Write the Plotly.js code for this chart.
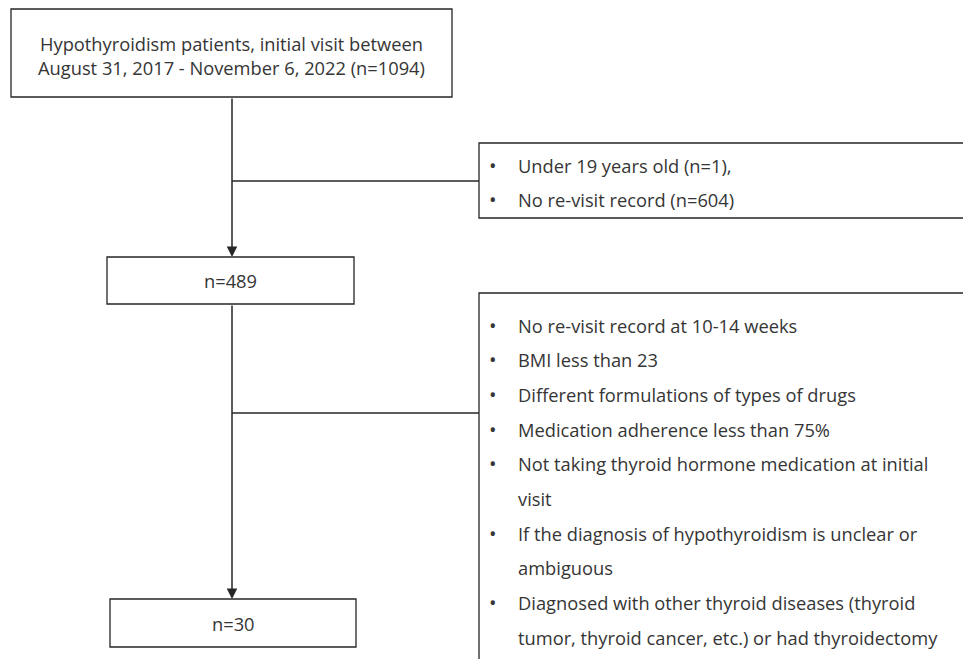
<!DOCTYPE html>
<html>
<head>
<meta charset="utf-8">
<script src="https://cdn.plot.ly/plotly-3.0.1.min.js"></script>
<style>
  html, body { margin: 0; padding: 0; background: #ffffff; }
  #chart { width: 963px; height: 659px; }
</style>
</head>
<body>
<div id="chart"></div>
<script>
// ---- content of the flow chart ----
const stageLabels = [
  "Hypothyroidism patients, initial visit between<br>August 31, 2017 - November 6, 2022 (n=1094)",
  "n=489",
  "n=30"
];
const exclusionStep1 = [
  "Under 19 years old (n=1),",
  "No re-visit record (n=604)"
];
const exclusionStep2 = [
  "No re-visit record at 10-14 weeks",
  "BMI less than 23",
  "Different formulations of types of drugs",
  "Medication adherence less than 75%",
  "Not taking thyroid hormone medication at initial\nvisit",
  "If the diagnosis of hypothyroidism is unclear or\nambiguous",
  "Diagnosed with other thyroid diseases (thyroid\ntumor, thyroid cancer, etc.) or had thyroidectomy"
];

// ---- layout geometry (pixel-like data coordinates) ----
const W = 963, H = 659;
const FONT = "'Open Sans', 'Noto Sans', sans-serif";
const FS = 18.3;
const TXT = "#353535";
const LINE = "#262626";
const stageBoxes = [
  {x0: 11, x1: 452, y0: 9, y1: 97},
  {x0: 107, x1: 354, y0: 257, y1: 304},
  {x0: 110, x1: 356, y0: 599, y1: 647}
];
const exclBoxes = [
  {x0: 479, x1: 990, y0: 143, y1: 218, firstLine: 165, connectorY: 181},
  {x0: 479, x1: 990, y0: 293, y1: 700, firstLine: 325, connectorY: 413}
];
const spineX = 232;
const lineStep = 34.7;
const bulletX = 493, textX = 516;

const shapes = [];
const annotations = [];

stageBoxes.forEach((b, i) => {
  shapes.push({type: 'rect', xref: 'x', yref: 'y', x0: b.x0, x1: b.x1, y0: b.y0, y1: b.y1,
    line: {color: LINE, width: 1.3}, fillcolor: 'rgba(0,0,0,0)'});
  annotations.push({xref: 'x', yref: 'y', x: (b.x0 + b.x1) / 2, y: (b.y0 + b.y1) / 2 + (i === 0 ? 2 : 0),
    text: stageLabels[i], showarrow: false, xanchor: 'center', yanchor: 'middle',
    font: {family: FONT, size: FS, color: TXT}, align: 'center'});
});

// arrows between stages
for (let i = 0; i < stageBoxes.length - 1; i++) {
  annotations.push({xref: 'x', yref: 'y', axref: 'x', ayref: 'y',
    x: spineX, y: stageBoxes[i + 1].y0, ax: spineX, ay: stageBoxes[i].y1,
    text: '', showarrow: true, arrowhead: 2, arrowsize: 1.4, arrowwidth: 1.5, arrowcolor: LINE});
}

// exclusion boxes + connectors
[exclusionStep1, exclusionStep2].forEach((items, k) => {
  const b = exclBoxes[k];
  shapes.push({type: 'rect', xref: 'x', yref: 'y', x0: b.x0, x1: b.x1, y0: b.y0, y1: b.y1,
    line: {color: LINE, width: 1.3}, fillcolor: 'rgba(0,0,0,0)'});
  shapes.push({type: 'line', xref: 'x', yref: 'y', x0: spineX, x1: b.x0, y0: b.connectorY, y1: b.connectorY,
    line: {color: LINE, width: 1.3}});
  let row = 0;
  items.forEach(item => {
    item.split('\n').forEach((ln, j) => {
      const y = b.firstLine + row * lineStep;
      if (j === 0) {
        annotations.push({xref: 'x', yref: 'y', x: bulletX, y: y, text: '•', showarrow: false,
          xanchor: 'center', yanchor: 'middle', font: {family: FONT, size: 20, color: TXT}});
      }
      annotations.push({xref: 'x', yref: 'y', x: textX, y: y, text: ln, showarrow: false,
        xanchor: 'left', yanchor: 'middle', font: {family: FONT, size: FS, color: TXT}});
      row++;
    });
  });
});

const layout = {
  width: W, height: H,
  margin: {l: 0, r: 0, t: 0, b: 0},
  paper_bgcolor: '#ffffff', plot_bgcolor: '#ffffff',
  xaxis: {range: [0, W], visible: false, fixedrange: true},
  yaxis: {range: [H, 0], visible: false, fixedrange: true},
  showlegend: false,
  shapes: shapes,
  annotations: annotations
};

Plotly.newPlot('chart', [{x: [], y: [], type: 'scatter', mode: 'lines', hoverinfo: 'skip'}], layout,
  {staticPlot: true, displayModeBar: false});
</script>
</body>
</html>
